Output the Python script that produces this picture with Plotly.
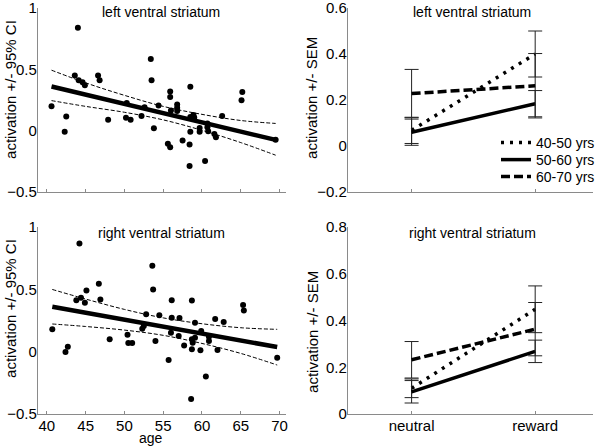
import plotly.graph_objects as go

# ---------------- data ----------------
age_left = [40.6, 42.3, 42.5, 43.6, 44.0, 44.1, 44.6, 44.9, 46.6, 46.8, 47.9, 50.2, 50.8, 50.3,
            52.2, 52.6, 53.4, 53.5, 53.8, 54.4, 55.6, 55.9, 55.9, 55.9, 56.0, 56.8, 56.8, 56.8,
            57.5, 58.4, 58.4, 58.5, 58.5, 58.5, 58.9, 59.0, 59.7, 59.7, 60.4, 60.7, 60.7, 60.8,
            61.6, 61.8, 62.6, 65.2, 65.1, 69.5]
act_left = [0.20, -0.008, 0.115, 0.45, 0.84, 0.41, 0.395, 0.37, 0.45, 0.41, 0.09, 0.105, 0.09, 0.225,
            0.12, 0.19, 0.585, 0.41, 0.02, 0.205, -0.107, -0.136, 0.32, 0.275, 0.165, 0.213, 0.187, 0.16,
            -0.08, -0.112, -0.288, 0.358, -0.008, 0.112, 0.128, 0.107, 0.021, -0.008, -0.248, 0.059, 0.027, -0.005,
            -0.027, -0.053, 0.12, 0.315, 0.248, -0.075]

age_right = [40.7, 42.4, 42.7, 43.8, 44.2, 44.4, 44.9, 45.1, 46.7, 46.9, 48.1, 50.4, 50.5, 51.0,
             52.3, 52.5, 52.8, 53.6, 53.7, 54.0, 54.5, 55.7, 56.1, 56.1, 56.0, 57.1, 57.0, 57.7,
             58.6, 58.7, 58.7, 58.7, 58.8, 59.1, 59.1, 59.8, 59.9, 60.5, 60.9, 60.9, 62.0, 61.7,
             62.8, 65.3, 65.4, 69.7]
act_right = [0.179, -0.003, 0.04, 0.413, 0.867, 0.432, 0.392, 0.49, 0.544, 0.418, 0.099, 0.136, 0.07, 0.07,
             0.184, 0.205, 0.30, 0.69, 0.498, 0.085, 0.293, -0.067, 0.413, 0.272, 0.152, 0.27, 0.125, 0.05,
             -0.38, 0.41, 0.019, 0.099, 0.072, 0.112, 0.232, 0.011, 0.165, -0.2, 0.12, 0.085, 0.013, 0.262,
             0.238, 0.374, 0.331, -0.048]

# regression fit and 95% CI
fit_x_left = [40.6, 45, 50, 55, 60, 65, 69.5]
fit_left = [0.36, 0.294, 0.219, 0.143, 0.068, -0.007, -0.075]
ci_up_left = [0.493, 0.39, 0.288, 0.198, 0.133, 0.083, 0.059]
ci_lo_left = [0.245, 0.198, 0.15, 0.088, 0.003, -0.097, -0.20]

fit_x_right = [40.7, 45, 50, 55, 60, 65, 69.7]
fit_right = [0.36, 0.312, 0.256, 0.201, 0.145, 0.089, 0.037]
ci_up_right = [0.499, 0.422, 0.339, 0.271, 0.224, 0.192, 0.179]
ci_lo_right = [0.222, 0.202, 0.173, 0.131, 0.066, -0.014, -0.107]

conditions = ["neutral", "reward"]
groups = ["40-50 yrs", "50-60 yrs", "60-70 yrs"]
mean_left = {"40-50 yrs": [0.068, 0.40], "50-60 yrs": [0.06, 0.184], "60-70 yrs": [0.228, 0.262]}
sem_left = {"40-50 yrs": [0.057, 0.10], "50-60 yrs": [0.057, 0.057], "60-70 yrs": [0.105, 0.14]}
mean_right = {"40-50 yrs": [0.11, 0.448], "50-60 yrs": [0.095, 0.268], "60-70 yrs": [0.232, 0.363]}
sem_right = {"40-50 yrs": [0.04, 0.10], "50-60 yrs": [0.048, 0.048], "60-70 yrs": [0.078, 0.114]}

ticks_scatter_y = [-0.5, 0, 0.5, 1]
ticks_group_top = [-0.2, 0, 0.2, 0.4, 0.6]
ticks_group_bot = [0, 0.2, 0.4, 0.6, 0.8]
ticks_age = [40, 45, 50, 55, 60, 65, 70]

# ---------------- styling ----------------
FONT = "Liberation Sans, Arial, sans-serif"
AX = "#8a8a8a"
dashes = {"40-50 yrs": "3px,6px", "50-60 yrs": "solid", "60-70 yrs": "9px,4px"}
legend_ids = {"40-50 yrs": "legend", "50-60 yrs": "legend2", "60-70 yrs": "legend3"}

def lbl(v):
    s = f"{v:g}"
    return s.replace("-", "\u2212")

fig = go.Figure()

def scatter_panel(xa, ya, ages, acts, fx, fy, up, lo):
    fig.add_trace(go.Scatter(x=fx, y=up, mode="lines", line=dict(color="black", width=1, dash="4px,2px", shape="spline"),
                             xaxis=xa, yaxis=ya, showlegend=False))
    fig.add_trace(go.Scatter(x=fx, y=lo, mode="lines", line=dict(color="black", width=1, dash="4px,2px", shape="spline"),
                             xaxis=xa, yaxis=ya, showlegend=False))
    fig.add_trace(go.Scatter(x=fx, y=fy, mode="lines", line=dict(color="black", width=4.5),
                             xaxis=xa, yaxis=ya, showlegend=False))
    fig.add_trace(go.Scatter(x=ages, y=acts, mode="markers", marker=dict(color="black", size=6),
                             xaxis=xa, yaxis=ya, showlegend=False))

def group_panel(xa, ya, means, sems, legend):
    for g in groups:
        fig.add_trace(go.Scatter(
            x=[1, 2], y=means[g], mode="lines", name=g,
            line=dict(color="black", width=3.5, dash=dashes[g]),
            error_y=dict(type="data", array=sems[g], color="#222", thickness=1, width=7),
            xaxis=xa, yaxis=ya, showlegend=legend, legend=legend_ids[g]))

scatter_panel("x", "y", age_left, act_left, fit_x_left, fit_left, ci_up_left, ci_lo_left)
group_panel("x2", "y2", mean_left, sem_left, True)
scatter_panel("x3", "y3", age_right, act_right, fit_x_right, fit_right, ci_up_right, ci_lo_right)
group_panel("x4", "y4", mean_right, sem_right, False)

W, H = 600, 447
def dx(a, b):
    return [a / W, b / W]
def dy(top, bot):
    return [(H - bot) / H, (H - top) / H]

tickfont = dict(family=FONT, size=15, color="black")
xcommon = dict(showline=True, linecolor=AX, linewidth=1, showgrid=False, zeroline=False, automargin=False,
               ticks="inside", ticklen=3, tickcolor=AX, tickfont=tickfont, ticklabeloverflow="allow",
               ticklabelstandoff=-2)
ycommon = dict(showline=True, linecolor=AX, linewidth=1, showgrid=False, zeroline=False, automargin=False,
               ticks="", tickfont=tickfont, ticklabeloverflow="allow", ticklabelstandoff=-3)

xl = dict(range=[38.84, 70.84], tickvals=ticks_age)
xr = dict(range=[0.484, 2.468], tickvals=[1, 2])

def leg(ycenter):
    return dict(x=498 / W, y=1 - ycenter / H, xanchor="left", yanchor="middle", bgcolor="rgba(0,0,0,0)",
                borderwidth=0, font=dict(family=FONT, size=14), itemwidth=30)

fig.update_layout(
    template="none",
    width=W, height=H, margin=dict(l=0, r=0, t=0, b=0, pad=0),
    plot_bgcolor="white", paper_bgcolor="white",
    font=dict(family=FONT, color="black"),
    xaxis=dict(domain=dx(38, 287), anchor="y", showticklabels=False, **xl, **xcommon),
    yaxis=dict(domain=dy(8, 192), anchor="x", range=[-0.5, 1], tickvals=ticks_scatter_y,
               ticktext=[lbl(v) for v in ticks_scatter_y], **ycommon),
    xaxis2=dict(domain=dx(349, 595), anchor="y2", showticklabels=False, **xr, **xcommon),
    yaxis2=dict(domain=dy(8, 192), anchor="x2", range=[-0.2, 0.6], tickvals=ticks_group_top,
                ticktext=[lbl(v) for v in ticks_group_top], **ycommon),
    xaxis3=dict(domain=dx(38, 287), anchor="y3", **xl, **xcommon),
    yaxis3=dict(domain=dy(227, 414), anchor="x3", range=[-0.5, 1], tickvals=ticks_scatter_y,
                ticktext=[lbl(v) for v in ticks_scatter_y], **ycommon),
    xaxis4=dict(domain=dx(349, 595), anchor="y4", ticktext=conditions, **xr, **xcommon),
    yaxis4=dict(domain=dy(227, 414), anchor="x4", range=[0, 0.8], tickvals=ticks_group_bot,
                ticktext=[lbl(v) for v in ticks_group_bot], **ycommon),
    legend=leg(143),
    legend2=leg(160),
    legend3=leg(177),
)

def ann(text, x, y, size=14, angle=0, yanchor="middle"):
    fig.add_annotation(text=text, x=x / W, y=1 - y / H, xref="paper", yref="paper", showarrow=False,
                       textangle=angle, xanchor="center", yanchor=yanchor, borderpad=0,
                       font=dict(family=FONT, size=size, color="black"))

ann("left ventral striatum", 162, 12)
ann("left ventral striatum", 474, 12)
ann("right ventral striatum", 162, 233)
ann("right ventral striatum", 474, 233)
ann("activation +/- 95% CI", 10, 89, 15, -90)
ann("activation +/- 95% CI", 10, 308, 15, -90)
ann("activation +/- SEM", 313, 98, 15, -90)
ann("activation +/- SEM", 313, 332, 15, -90)
ann("age", 152, 447, 14, yanchor="bottom")

fig.write_html("out.html", config={"displayModeBar": False},
               post_script="document.body.style.margin='0';document.body.style.overflow='hidden';")
